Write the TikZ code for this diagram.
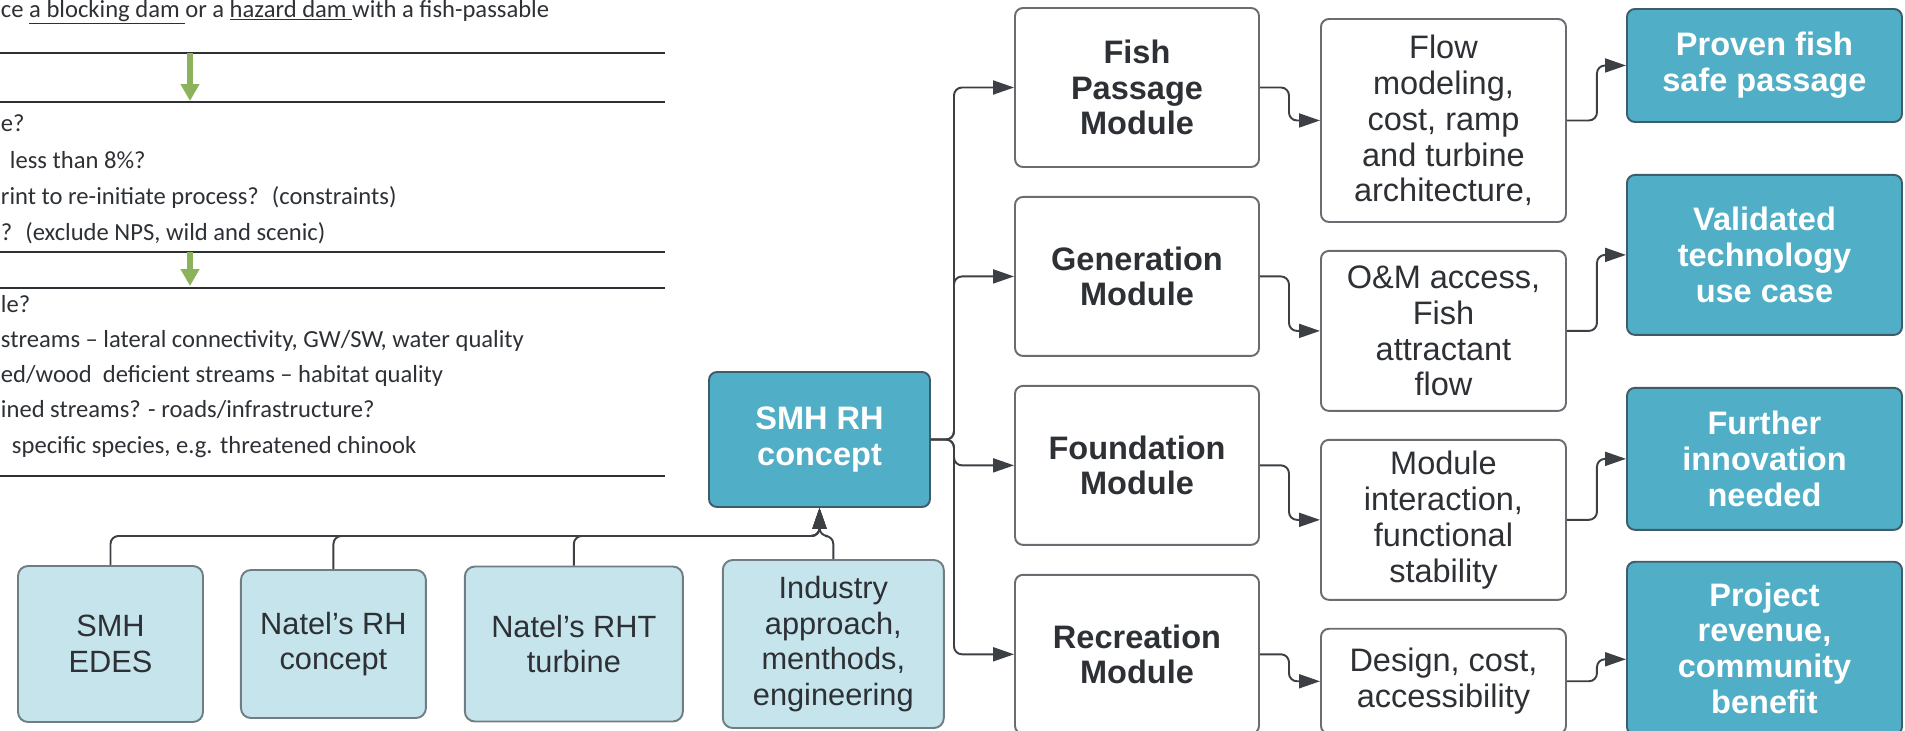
\documentclass[tikz,border=0pt]{standalone}
\usepackage{fontspec}
\setmainfont{Liberation Sans}
\newfontfamily\docfont{Carlito}
\usetikzlibrary{positioning,arrows.meta}
\definecolor{ink}{RGB}{45,48,52}
\definecolor{lineclr}{RGB}{60,64,68}
\definecolor{mdline}{RGB}{105,108,112}
\definecolor{tealbox}{RGB}{80,174,198}
\definecolor{tealline}{RGB}{62,92,106}
\definecolor{lightbox}{RGB}{197,228,236}
\definecolor{lightline}{RGB}{112,126,132}
\definecolor{arrgreen}{RGB}{140,178,92}
\tikzset{
  md/.style={rectangle, rounded corners=0.16cm, minimum width=4.88cm, minimum height=3.18cm, align=center, draw=mdline, fill=white, text=ink, font=\fontsize{18.5}{20.4}\selectfont\bfseries},
  dt/.style={rectangle, rounded corners=0.16cm, minimum width=4.9cm, minimum height=3.2cm, align=center, draw=mdline, fill=white, text=ink, font=\fontsize{18.5}{20.4}\selectfont},
  oc/.style={rectangle, rounded corners=0.16cm, minimum width=5.5cm, align=center, draw=tealline, fill=tealbox, text=white, font=\fontsize{18.5}{20.4}\selectfont\bfseries},
  cc/.style={rectangle, rounded corners=0.16cm, minimum width=4.42cm, minimum height=2.7cm, align=center, draw=tealline, fill=tealbox, text=white, font=\fontsize{18.5}{20.4}\selectfont\bfseries},
  sr/.style={rectangle, rounded corners=0.2cm, align=center, draw=lightline, fill=lightbox, text=ink, font=\fontsize{17.5}{20.4}\selectfont},
  txt/.style={anchor=base west, inner sep=0pt, text=ink, font=\docfont\fontsize{14}{17}\selectfont},
  rl/.style={draw=ink, line width=1.1pt},
  gr/.style={draw=arrgreen, line width=3.5pt, -{Triangle[length=0.34cm,width=0.36cm]}},
  node distance=0.56cm
}
\begin{document}
\begin{tikzpicture}[line width=1.1pt, color=lineclr, rounded corners=0.16cm, >={Triangle[length=0.42cm,width=0.28cm]}]
	\useasboundingbox (0,0) rectangle (38.1,-14.6);
	
	% document excerpt on the left
	\node[txt] (head) at (0,-0.34) {ce \underline{a blocking dam }or a \underline{hazard dam }with a fish-passable};
	\node[txt] (qa) at (0,-2.62) {e?};
	\node[txt] (qb) at (0.18,-3.36) {less than 8\%?};
	\node[txt] (qc) at (0,-4.08) {rint to re-initiate process?~ (constraints)};
	\node[txt] (qd) at (0,-4.80) {?~ (exclude NPS, wild and scenic)};
	\node[txt] (qe) at (0,-6.24) {le?};
	\node[txt] (qf) at (0,-6.94) {streams – lateral connectivity, GW/SW, water quality};
	\node[txt] (qg) at (0,-7.64) {ed/wood~ deficient streams – habitat quality};
	\node[txt] (qh) at (0,-8.34) {ined streams? - roads/infrastructure?};
	\node[txt] (qi) at (0.22,-9.06) {specific species, e.g. threatened chinook};
	
	\draw[rl] (0,-1.06) -- (13.3,-1.06);
	\draw[rl] (0,-2.04) -- (13.3,-2.04);
	\draw[rl] (0,-5.04) -- (13.3,-5.04);
	\draw[rl] (0,-5.76) -- (13.3,-5.76);
	\draw[rl] (0,-9.52) -- (13.3,-9.52);
	
	\coordinate (ga) at (3.8,-1.06);
	\coordinate (gb) at (3.8,-2.02);
	\coordinate (gc) at (3.8,-5.04);
	\coordinate (gd) at (3.8,-5.72);
	\draw[gr] (ga) -- (gb);
	\draw[gr] (gc) -- (gd);
	
	% concept and inputs
	\node[cc] (smh) at (16.39,-8.79) {SMH RH\\concept};
	\node[sr, minimum width=3.7cm, minimum height=3.12cm] (edes) at (2.21,-12.88) {SMH\\EDES};
	\node[sr, minimum width=3.7cm, minimum height=2.96cm, right=0.72cm of edes] (natrh) {Natel's RH\\concept};
	\node[sr, minimum width=4.36cm, minimum height=3.1cm, right=0.74cm of natrh] (natrht) {Natel's RHT\\turbine};
	\node[sr, minimum width=4.42cm, minimum height=3.36cm, right=0.76cm of natrht] (ind) {Industry\\approach,\\menthods,\\engineering};
	
	\coordinate (join) at ([yshift=-0.56cm]smh.south);
	\draw[->] (edes.north) |- (join) -- (smh.south);
	\draw[->] (natrh.north) |- (join) -- (smh.south);
	\draw[->] (natrht.north) |- (join) -- (smh.south);
	\draw[->] (ind.north) |- (join) -- (smh.south);
	
	% modules
	\node[md] (fish) at (22.74,-1.75) {Fish\\Passage\\Module};
	\node[md, below=of fish] (gen) {Generation\\Module};
	\node[md, below=of gen] (found) {Foundation\\Module};
	\node[md, below=of found] (recr) {Recreation\\Module};
	
	\draw[->] (smh.east) -- ++(0.46,0) |- (fish.west);
	\draw[->] (smh.east) -- ++(0.46,0) |- (gen.west);
	\draw[->] (smh.east) -- ++(0.46,0) |- (found.west);
	\draw[->] (smh.east) -- ++(0.46,0) |- (recr.west);
	
	% what each module needs
	\node[dt, minimum height=4.06cm, anchor=north west] (flow) at (26.4,-0.36) {Flow\\modeling,\\cost, ramp\\and turbine\\architecture,};
	\node[dt, below=0.54cm of flow] (om) {O\&M access,\\Fish\\attractant\\flow};
	\node[dt, below=0.54cm of om] (modint) {Module\\interaction,\\functional\\stability};
	\node[dt, minimum height=2.1cm, below=0.54cm of modint] (design) {Design, cost,\\accessibility};
	
	\draw[->] (fish.east) -- ++(0.58,0) |- (flow.west);
	\draw[->] (gen.east) -- ++(0.58,0) |- (om.west);
	\draw[->] (found.east) -- ++(0.58,0) |- (modint.west);
	\draw[->] (recr.east) -- ++(0.58,0) |- (design.west);
	
	% outcomes
	\node[oc, minimum height=2.26cm, anchor=north west] (proven) at (32.52,-0.16) {Proven fish\\safe passage};
	\node[oc, minimum height=3.2cm, below=1.02cm of proven] (valid) {Validated\\technology\\use case};
	\node[oc, minimum height=2.84cm, below=1.02cm of valid] (further) {Further\\innovation\\needed};
	\node[oc, minimum height=3.46cm, below=0.6cm of further] (project) {Project\\revenue,\\community\\benefit};
	
	\draw[->] (flow.east) -- ++(0.6,0) |- (proven.west);
	\draw[->] (om.east) -- ++(0.6,0) |- (valid.west);
	\draw[->] (modint.east) -- ++(0.6,0) |- (further.west);
	\draw[->] (design.east) -- ++(0.6,0) |- ([yshift=-0.22cm]project.west);
\end{tikzpicture}
\end{document}
